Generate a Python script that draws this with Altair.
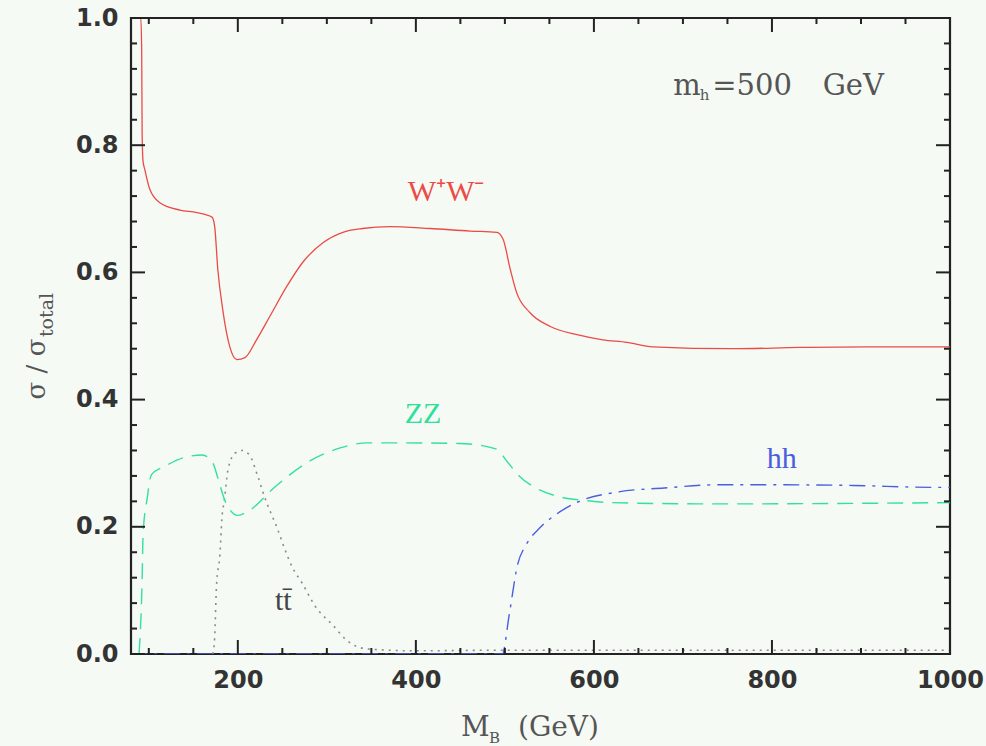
import altair as alt
import pandas as pd

# ---------------- data ----------------
ww_x = [80, 91, 92, 92.5, 93.5, 95.5, 101, 112, 135, 154, 171, 174, 177.5, 183, 191, 199, 208,
        221, 236, 255, 273, 296, 318, 340, 371, 416, 461, 491, 498, 506, 513, 528, 551, 581,
        610, 637, 666, 756, 831, 907, 1000]
ww_y = [1.0, 1.0, 0.95, 0.82, 0.775, 0.762, 0.731, 0.710, 0.698, 0.694, 0.687, 0.672, 0.605,
        0.542, 0.483, 0.463, 0.466, 0.494, 0.531, 0.578, 0.616, 0.647, 0.663, 0.669, 0.672,
        0.669, 0.665, 0.663, 0.652, 0.605, 0.569, 0.537, 0.515, 0.502, 0.494, 0.490, 0.483,
        0.480, 0.482, 0.483, 0.483]

zz_x = [89, 92.5, 93.6, 98, 103, 118, 140, 160, 172, 177.5, 185, 191, 200, 211, 242, 279, 315,
        345, 382, 449, 489, 504, 516, 539, 562, 593, 620, 736, 1000]
zz_y = [0.0, 0.117, 0.19, 0.243, 0.282, 0.295, 0.309, 0.313, 0.30, 0.277, 0.243, 0.227, 0.218,
        0.224, 0.263, 0.302, 0.324, 0.332, 0.332, 0.331, 0.323, 0.30, 0.28, 0.258, 0.247,
        0.241, 0.238, 0.236, 0.238]

tt_x = [172, 174, 176, 180, 182, 185, 189, 197, 205, 213, 222.5, 230, 245, 253, 261, 272, 287,
        307, 322, 345, 400, 500, 1000]
tt_y = [0.0, 0.027, 0.106, 0.159, 0.211, 0.243, 0.29, 0.316, 0.32, 0.313, 0.279, 0.247, 0.195,
        0.164, 0.137, 0.112, 0.075, 0.045, 0.022, 0.008, 0.005, 0.006, 0.006]

hh_x = [80, 497, 505, 514, 524, 539, 558, 582, 628, 679, 736, 813, 891, 984, 1000]
hh_y = [0, 0, 0.063, 0.139, 0.172, 0.198, 0.220, 0.239, 0.255, 0.261, 0.266, 0.266, 0.265,
        0.262, 0.262]

x_major = [200, 400, 600, 800, 1000]
x_minor = [100, 150, 250, 300, 350, 450, 500, 550, 650, 700, 750, 850, 900, 950]
y_major = [0.0, 0.2, 0.4, 0.6, 0.8, 1.0]
y_minor = [0.04, 0.08, 0.12, 0.16, 0.24, 0.28, 0.32, 0.36, 0.44, 0.48, 0.52, 0.56,
           0.64, 0.68, 0.72, 0.76, 0.84, 0.88, 0.92, 0.96]

labels_text = ["W\u207aW\u207b", "ZZ", "hh", "tt\u0304"]
labels_x = [434, 408, 811, 251]
labels_y = [0.727, 0.378, 0.306, 0.083]
labels_color = ["#ec4a46", "#2fe09a", "#4a5ee0", "#444444"]

# ---------------- layout ----------------
W, H = 819, 636
BG = "#f5faf4"
xs = alt.Scale(domain=[80, 1000], nice=False, zero=False)
ys = alt.Scale(domain=[0, 1], nice=False, zero=False)

xax = alt.Axis(values=x_major, format="d", title=None, ticks=False, domain=False, grid=False,
               labelFont="DejaVu Sans", labelFontWeight="bold", labelFontSize=24,
               labelColor="#333333", labelPadding=14, labelFlush=False)
yax = alt.Axis(values=y_major, format=".1f", title=None, ticks=False, domain=False,
               grid=False, labelFont="DejaVu Sans", labelFontWeight="bold",
               labelFontSize=24, labelColor="#333333", labelPadding=13)

X = lambda f: alt.X(f, type="quantitative", scale=xs, axis=xax)
Y = lambda f: alt.Y(f, type="quantitative", scale=ys, axis=yax)


def line(xv, yv, color, dash=None, width=1.3):
    df = pd.DataFrame({"x": xv, "y": yv})
    kw = dict(color=color, strokeWidth=width, interpolate="monotone", clip=True)
    if dash:
        kw["strokeDash"] = dash
    return alt.Chart(df).mark_line(**kw).encode(x=X("x"), y=Y("y"))


layers = []
layers.append(line(hh_x, hh_y, "#4a5ee0", [16, 7, 3, 7], 1.4))
layers.append(line(tt_x, tt_y, "#8a8a8a", [2, 5], 1.6))
layers.append(line(zz_x, zz_y, "#33e0a0", [16, 9], 1.4))
layers.append(line(ww_x, ww_y, "#ec4a46", None, 1.3))

# inward ticks on all four sides
TC = "#222222"
for vals, L in ((x_major, 14), (x_minor, 6)):
    d = pd.DataFrame({"v": vals})
    layers.append(alt.Chart(d).mark_rule(color=TC, strokeWidth=2).encode(
        x=X("v"), y=alt.value(H), y2=alt.value(H - L)))
    layers.append(alt.Chart(d).mark_rule(color=TC, strokeWidth=2).encode(
        x=X("v"), y=alt.value(0), y2=alt.value(L)))
for vals, L in ((y_major, 14), (y_minor, 6)):
    d = pd.DataFrame({"v": vals})
    layers.append(alt.Chart(d).mark_rule(color=TC, strokeWidth=2).encode(
        y=Y("v"), x=alt.value(0), x2=alt.value(L)))
    layers.append(alt.Chart(d).mark_rule(color=TC, strokeWidth=2).encode(
        y=Y("v"), x=alt.value(W), x2=alt.value(W - L)))

# curve labels
lab = pd.DataFrame({"t": labels_text, "x": labels_x, "y": labels_y, "c": labels_color})
layers.append(alt.Chart(lab).mark_text(font="Liberation Serif", fontSize=30,
                                       baseline="middle", align="center").encode(
    x=X("x"), y=Y("y"), text="t:N", color=alt.Color("c:N", scale=None)))

# m_h = 500 GeV
mh = pd.DataFrame({"t": ["m", "h", "=500", "GeV"], "x": [689, 719, 733, 857],
                   "y": [0.893, 0.879, 0.893, 0.893], "s": [29, 15, 29, 29]})
layers.append(alt.Chart(mh).mark_text(font="DejaVu Serif", color="#555555",
                                      baseline="middle", align="left").encode(
    x=X("x"), y=Y("y"), text="t:N", size=alt.Size("s:Q", scale=None, legend=None)))

# axis titles (with subscripts)
def txt(t, px, py, size, angle=0, align="left", color="#555555"):
    d = pd.DataFrame({"t": [t]})
    return alt.Chart(d).mark_text(font="DejaVu Serif", fontSize=size, angle=angle,
                                  align=align, baseline="middle", color=color).encode(
        x=alt.value(px), y=alt.value(py), text="t:N")

layers.append(txt("M", 330, 710, 28))
layers.append(txt("B", 358, 720, 15))
layers.append(txt("(GeV)", 387, 710, 28))
layers.append(txt("\u03c3 / \u03c3", -94, 351, 26, angle=270, align="center"))
layers.append(txt("total", -84, 297, 19, angle=270, align="center"))

chart = alt.layer(*layers).properties(
    width=W, height=H, background=BG,
    padding={"left": 131, "top": 18, "right": 36, "bottom": 92},
    autosize=alt.AutoSizeParams(type="none"),
).configure_view(stroke="#222222", strokeWidth=2.2, fill=BG)

chart.save("out.html", embed_options={"renderer": "svg", "actions": False})
